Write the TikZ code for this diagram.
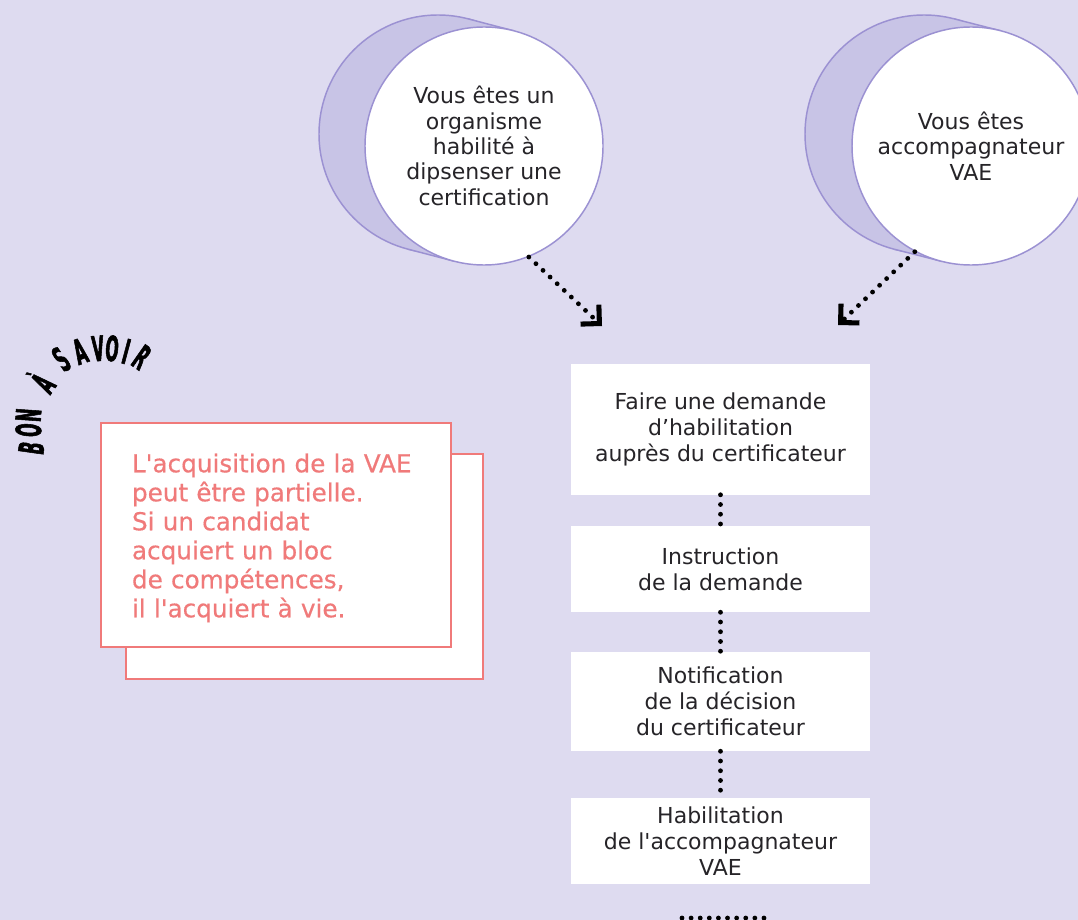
\documentclass[tikz,border=0pt]{standalone}
\usepackage{fontspec}
\setmainfont{DejaVu Sans}
\newfontfamily\stampfont[FakeStretch=0.45,FakeBold=1.5]{DejaVu Sans}
\newfontfamily\cardfont[FakeBold=0.5]{DejaVu Sans}
\usetikzlibrary{arrows.meta,calc}
\definecolor{lavbg}{RGB}{222,219,240}
\definecolor{lavside}{RGB}{200,196,230}
\definecolor{lavline}{RGB}{155,145,210}
\definecolor{corail}{RGB}{240,122,122}
\definecolor{inktext}{RGB}{38,36,40}
\begin{document}
\begin{tikzpicture}[x=0.75pt,y=0.75pt,yscale=-1,xscale=1,
  bubble/.style={circle,draw=lavline,line width=1.1pt,fill=white,minimum size=178.5pt,inner sep=0pt,align=center,text=inktext,font=\fontsize{16.5}{19}\selectfont},
  side/.style={fill=lavside},
  rim/.style={draw=lavline,line width=1.1pt},
  stepbox/.style={fill=white,minimum width=224pt,inner sep=0pt,align=center,text=inktext,font=\fontsize{16.5}{19.5}\selectfont},
  dotline/.style={draw=black,line width=3.6pt,line cap=round,dash pattern=on 0pt off 7.3pt},
  dotarrow/.style={dotline,-{Straight Barb[sharp,length=10pt,angle'=90,line width=3.8pt]}},
  card/.style={draw=corail,line width=1.1pt,fill=white},
  letter/.style={anchor=base,inner sep=0pt,text=black,font=\stampfont\bfseries\fontsize{26}{26}\selectfont}
]
\useasboundingbox (0,0) rectangle (1078,920);
\fill[lavbg] (0,0) rectangle (1078,920);
\clip (0,0) rectangle (1078,920);

%Shape: Cylinder [organisme]
\coordinate (orgback) at (438,134);
\coordinate (orgfront) at (484,146);
\draw[side,rim] (orgback) circle (89.25pt);
\fill[side] ($(orgback)!89.25pt!90:(orgfront)$) -- ($(orgfront)!89.25pt!-90:(orgback)$) -- ($(orgfront)!89.25pt!90:(orgback)$) -- ($(orgback)!89.25pt!-90:(orgfront)$) -- cycle;
\draw[rim] ($(orgback)!89.25pt!90:(orgfront)$) -- ($(orgfront)!89.25pt!-90:(orgback)$);
\draw[rim] ($(orgback)!89.25pt!-90:(orgfront)$) -- ($(orgfront)!89.25pt!90:(orgback)$);
\node[bubble] (org) at (orgfront) {Vous êtes un\\organisme\\habilité à\\dipsenser une\\certification};

%Shape: Cylinder [accompagnateur]
\coordinate (accback) at (924,134);
\coordinate (accfront) at (971,146);
\draw[side,rim] (accback) circle (89.25pt);
\fill[side] ($(accback)!89.25pt!90:(accfront)$) -- ($(accfront)!89.25pt!-90:(accback)$) -- ($(accfront)!89.25pt!90:(accback)$) -- ($(accback)!89.25pt!-90:(accfront)$) -- cycle;
\draw[rim] ($(accback)!89.25pt!90:(accfront)$) -- ($(accfront)!89.25pt!-90:(accback)$);
\draw[rim] ($(accback)!89.25pt!-90:(accfront)$) -- ($(accfront)!89.25pt!90:(accback)$);
\node[bubble] (acc) at (accfront) {Vous êtes\\accompagnateur\\VAE};

%Dotted arrows
\coordinate (orgtip) at (602,326);
\coordinate (acctip) at (838,325);
\draw[dotarrow] (org.-68) -- (orgtip);
\draw[dotarrow] (acc.-118) -- (acctip);

% Steps
\node[stepbox,minimum height=98.25pt] (dem) at (720.5,429) {Faire une demande\\d’habilitation\\auprès du certificateur};
\node[stepbox,minimum height=64.5pt] (instr) at (720.5,569) {Instruction\\de la demande};
\node[stepbox,minimum height=74.25pt] (notif) at (720.5,701.5) {Notification\\de la décision\\du certificateur};
\node[stepbox,minimum height=64.5pt] (habil) at (720.5,841) {Habilitation\\de l\textquotesingle accompagnateur\\VAE};

%Straight Lines
\draw[dotline] (dem) -- (instr);
\draw[dotline] (instr) -- (notif);
\draw[dotline] (notif) -- (habil);
\coordinate (suiteA) at (682,918);
\coordinate (suiteB) at (764,918);
\draw[dotline,dash pattern=on 0pt off 6.83pt] (suiteA) -- (suiteB);

%Shape: Card
\draw[card] (126,454) rectangle (483,679);
\node[card,text=corail,align=left,text width=216pt,inner xsep=23.25pt,minimum height=168pt,font=\cardfont\fontsize{18.5}{21.75}\selectfont] (astuce) at (276,535) {\rule{0pt}{18.5pt}L\textquotesingle acquisition de la VAE\\peut être partielle.\\Si un candidat\\acquiert un bloc\\de compétences,\\il l\textquotesingle acquiert à vie.};

% Text Node [bon a savoir]
\foreach \ch/\px/\py/\rot [count=\k] in {B/43.9/449.8/82, O/41/431/86, N/41/416/86, À/53.6/390.5/55, S/68.5/369.6/35, A/84.4/363.2/20, V/99.1/361/5, O/111/361/-5, I/123/363.6/-15, R/134.5/367.6/-35}
  \node[letter,rotate=\rot] (bon\k) at (\px,\py) {\ch};
\end{tikzpicture}
\end{document}
